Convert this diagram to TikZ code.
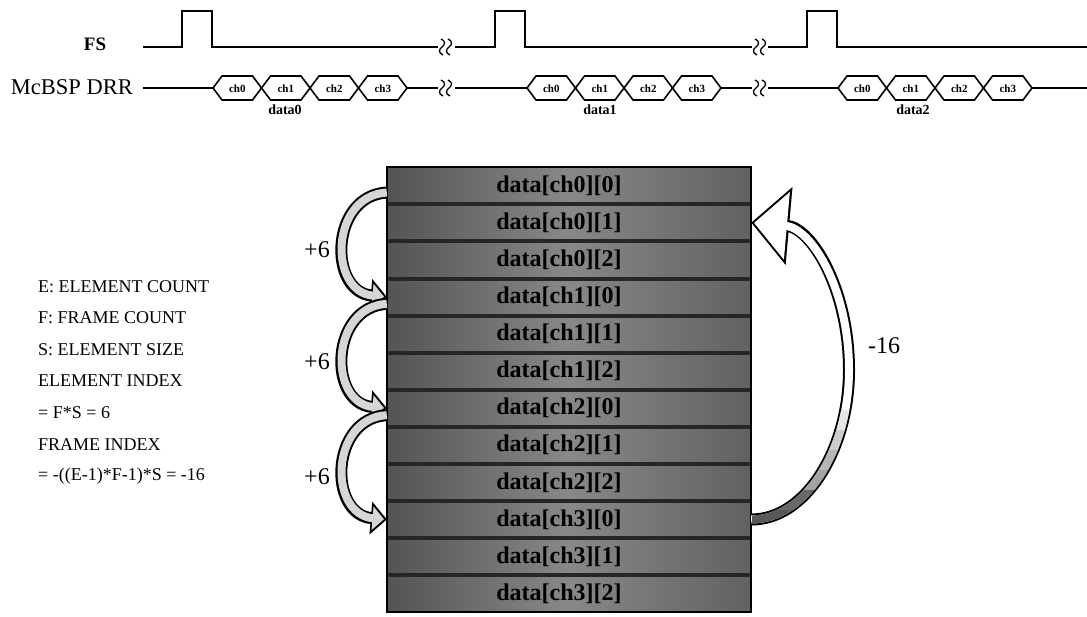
\documentclass[tikz,border=0pt]{standalone}
\usepackage{fontspec}
\setmainfont{Liberation Serif}
\usetikzlibrary{arrows.meta,calc}
\definecolor{rowdark}{RGB}{84,84,84}
\definecolor{rowmid}{RGB}{136,136,136}
\definecolor{arrowfill}{RGB}{214,214,214}
\newcommand{\squigmark}[2]{%
  \draw[line width=1.3pt] (#1-1,#2-8) .. controls (#1+4,#2-6) and (#1+3,#2-2) .. (#1,#2) .. controls (#1-3,#2+2) and (#1-4,#2+6) .. (#1+1,#2+8);}
\newcommand{\brkmark}[2]{\squigmark{#1+4}{#2}\squigmark{#1+11}{#2}}
\begin{document}
\begin{tikzpicture}[x=1pt,y=-1pt,
  sig/.style={line width=2pt,line join=miter},
  hexline/.style={line width=1.6pt,line join=miter},
  chlab/.style={font=\bfseries\fontsize{11}{11}\selectfont,inner sep=0pt},
  dlab/.style={font=\bfseries\fontsize{14}{14}\selectfont,inner sep=0pt},
  sidetxt/.style={anchor=west,font=\fontsize{18}{18}\selectfont,inner sep=0pt},
  offs/.style={font=\fontsize{24}{24}\selectfont,inner sep=0pt},
  rowbox/.style={minimum width=364pt,minimum height=37.1pt,inner sep=0pt,
    left color=rowdark,right color=rowdark!75!rowmid,middle color=rowmid,
    font=\bfseries\fontsize{24}{24}\selectfont,text=black},
  sep/.style={line width=4pt,black!85}]
\useasboundingbox (0,0) rectangle (1087,616);

% ---------- timing ----------
\node[font=\bfseries\fontsize{19}{19}\selectfont,inner sep=0pt] (fs) at (95,44) {FS};
\node[font=\fontsize{22.5}{22.5}\selectfont,inner sep=0pt,anchor=east] (drr) at (133,87) {McBSP DRR};

\draw[sig] (143,47) -- (182,47) -- (182,11) -- (212,11) -- (212,47) -- (438,47);
\draw[sig] (455,47) -- (495,47) -- (495,11) -- (525,11) -- (525,47) -- (752,47);
\draw[sig] (768,47) -- (807,47) -- (807,11) -- (837,11) -- (837,47) -- (1087,47);
\brkmark{438}{47}
\brkmark{752}{47}

\draw[sig] (143,88) -- (213,88);
\draw[sig] (407,88) -- (438,88);
\draw[sig] (455,88) -- (527,88);
\draw[sig] (721,88) -- (752,88);
\draw[sig] (768,88) -- (838,88);
\draw[sig] (1032,88) -- (1087,88);
\brkmark{438}{88}
\brkmark{752}{88}

\foreach \s/\g in {213/a,527/b,838/c}{
  \foreach \j in {0,1,2,3}{
    \pgfmathsetmacro\xa{\s+48.5*\j}
    \pgfmathsetmacro\xb{\s+48.5*(\j+1)}
    \pgfmathsetmacro\xm{\s+48.5*(\j+0.5)}
    \draw[hexline] (\xa,88) -- (\xa+9,76) -- (\xb-9,76) -- (\xb,88) -- (\xb-9,100) -- (\xa+9,100) -- cycle;
    \node[chlab] (h\g\j) at (\xm,89) {ch\j};
  }
}
\node[dlab] (d0) at (285,110) {data0};
\node[dlab] (d1) at (600,110) {data1};
\node[dlab] (d2) at (913,110) {data2};

% ---------- memory block ----------
\foreach \i/\c/\k in {0/0/0,1/0/1,2/0/2,3/1/0,4/1/1,5/1/2,6/2/0,7/2/1,8/2/2,9/3/0,10/3/1,11/3/2}{
  \node[rowbox] (r\i) at (569,{185.55+37.1*\i}) {\hspace*{-20pt}data[ch\c][\k]};
}
\foreach \i in {0,...,10}{
  \draw[sep] (r\i.south west) -- (r\i.south east);
}
\draw[line width=2pt] (r0.north west) rectangle (r11.south east);

% ---------- left text ----------
\node[sidetxt] (t1) at (38,287) {E: ELEMENT COUNT};
\node[sidetxt] (t2) at (38,318) {F: FRAME COUNT};
\node[sidetxt] (t3) at (38,350) {S: ELEMENT SIZE};
\node[sidetxt] (t4) at (38,381) {ELEMENT INDEX};
\node[sidetxt] (t5) at (38,413) {= F*S = 6};
\node[sidetxt] (t6) at (38,445) {FRAME INDEX};
\node[sidetxt] (t7) at (38,476) {= -((E-1)*F-1)*S = -16};

% ---------- +6 arrows ----------
\foreach \p/\q in {0/3,3/6,6/9}{
  \draw[line width=12pt,-{Triangle[length=16pt,width=32pt]}]
    ($(r\p.west)+(0,7)$) .. controls (330,{185.55+37.1*\p+10}) and (328,{185.55+37.1*\q-5}) .. (r\q.west);
  \draw[line width=8pt,arrowfill,-{Triangle[length=11.5pt,width=23pt]},shorten >=2.8pt]
    ($(r\p.west)+(0,7)$) .. controls (330,{185.55+37.1*\p+10}) and (328,{185.55+37.1*\q-5}) .. (r\q.west);
}
\node[offs] (p1) at (317,250) {+6};
\node[offs] (p2) at (317,362) {+6};
\node[offs] (p3) at (317,477) {+6};

% ---------- -16 arrow ----------
\def\bigpath{(r9.east) .. controls (805,520) and (849,450) .. (849,370) .. controls (849,290) and (812,228) .. (r1.east)}
\draw[line width=12pt,-{Triangle[length=38pt,width=76pt]}] \bigpath;
\draw[line width=8pt,white,-{Triangle[length=33pt,width=66pt]},shorten >=2.8pt] \bigpath;
\foreach \ya/\yb/\col in {410/430/gray!20,430/450/gray!40,450/470/gray!58,470/490/gray!72,490/510/gray!82!black,510/540/gray!70!black}{
  \begin{scope}
    \clip (752,\ya) rectangle (900,\yb);
    \draw[line width=8pt,\col] (r9.east) .. controls (805,520) and (849,450) .. (849,370);
  \end{scope}
}
\node[offs] (m16) at (884,346) {-16};
\end{tikzpicture}
\end{document}
